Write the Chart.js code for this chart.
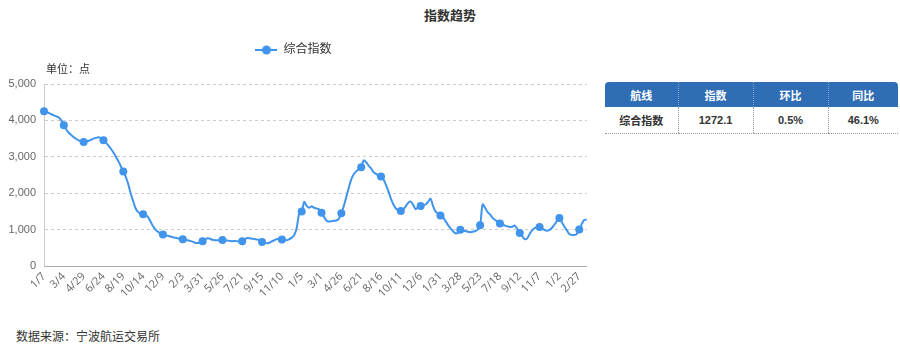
<!DOCTYPE html>
<html>
<head>
<meta charset="utf-8">
<script src="https://cdn.jsdelivr.net/npm/chart.js@4/dist/chart.umd.min.js"></script>
<style>
  body { margin: 0; background: #fff; font-family: 'Liberation Sans', 'Noto Sans CJK SC', sans-serif; color: #333; }
  #wrap { position: relative; width: 900px; height: 354px; overflow: hidden; }
  #title { position: absolute; left: 0; top: 5px; width: 900px; text-align: center; font-size: 13px; font-weight: bold; color: #333; }
  #box { position: absolute; left: 0; top: 0; width: 600px; height: 310px; }
  #tbl { position: absolute; left: 605px; top: 82px; width: 293px; border-collapse: collapse; table-layout: fixed; font-size: 11px; }
  #tbl th { background: #2f6db4; color: #fff; height: 23px; font-weight: bold; border-left: 1px dotted #7f9fcc; }
  #tbl th:first-child { border-left: none; border-top-left-radius: 4px; }
  #tbl th:last-child { border-top-right-radius: 4px; }
  #tbl td { height: 24px; text-align: center; font-weight: bold; border-left: 1px dotted #999; border-bottom: 1px dotted #999; }
  #tbl td:first-child { border-left: none; }
  #src { position: absolute; left: 16px; top: 327px; font-size: 12px; color: #333; }
</style>
</head>
<body>
<div id="wrap">
  <div id="title">指数趋势</div>
  <div id="box"><canvas id="chart"></canvas></div>
  <table id="tbl">
    <colgroup><col style="width:73px"><col style="width:75px"><col style="width:75px"><col style="width:70px"></colgroup>
    <tr><th>航线</th><th>指数</th><th>环比</th><th>同比</th></tr>
    <tr><td>综合指数</td><td>1272.1</td><td>0.5%</td><td>46.1%</td></tr>
  </table>
  <div id="src">数据来源：宁波航运交易所</div>
</div>
<script>
// weekly index, first week 2022-01-07
const startDate = '2022-01-07';
const seriesName = '综合指数';
const indexValues = [
  4250, 4230, 4200, 4170, 4140, 4110, 4080, 4000, 3866,
  3750, 3660, 3600, 3540, 3490, 3450, 3420, 3407,
  3420, 3440, 3470, 3500, 3520, 3540, 3510, 3453,
  3390, 3310, 3220, 3120, 3010, 2880, 2740, 2593,
  2450, 2250, 1990, 1780, 1580, 1480, 1440, 1420,
  1400, 1340, 1220, 1090, 1000, 940, 890, 862,
  845, 830, 810, 790, 775, 760, 745, 733,
  720, 705, 690, 670, 640, 630, 650, 678,
  720, 760, 750, 720, 710, 705, 710, 714,
  710, 700, 690, 680, 690, 680, 670, 678,
  730, 770, 760, 750, 740, 730, 710, 660,
  640, 625, 640, 680, 710, 740, 740, 725,
  700, 710, 740, 780, 850, 1050, 1450, 1494,
  1760, 1650, 1600, 1640, 1600, 1580, 1560, 1460,
  1350, 1250, 1220, 1230, 1240, 1250, 1300, 1450,
  1650, 1900, 2150, 2380, 2520, 2600, 2660, 2712,
  2900, 2850, 2760, 2680, 2580, 2530, 2480, 2456,
  2380, 2230, 2050, 1850, 1690, 1580, 1530, 1511,
  1560, 1640, 1740, 1770, 1680, 1560, 1620, 1648,
  1670, 1690, 1760, 1850, 1650, 1500, 1440, 1385,
  1340, 1240, 1130, 1040, 960, 900, 910, 995,
  980, 960, 940, 930, 940, 960, 1000, 1120,
  1690, 1600, 1480, 1420, 1320, 1270, 1220, 1165,
  1140, 1110, 1090, 1070, 1080, 1110, 1020, 907,
  820, 740, 760, 880, 980, 1040, 1060, 1071,
  1030, 990, 970, 990, 1050, 1140, 1230, 1319,
  1200, 1080, 980, 880, 850, 850, 880, 1000,
  1150, 1265.8, 1272.1
];
const yTicks = [0, 1000, 2000, 3000, 4000, 5000];
const labelStep = 8;

// week labels like 1/7, 3/4 ...
const weekLabels = [];
const d0 = new Date(startDate + 'T00:00:00Z');
for (let i = 0; i < indexValues.length; i++) {
  const d = new Date(d0.getTime() + i * 7 * 86400000);
  weekLabels.push((d.getUTCMonth() + 1) + '/' + d.getUTCDate());
}

const blue = '#4094ec';
const font = "'Liberation Sans', 'Noto Sans CJK SC', sans-serif";
const tickFont = "'Open Sans', 'Liberation Sans', sans-serif";

// legend symbol: short line with a dot
const sym = document.createElement('canvas');
sym.width = 22; sym.height = 10;
const sc = sym.getContext('2d');
sc.strokeStyle = blue; sc.lineWidth = 2;
sc.beginPath(); sc.moveTo(0, 5); sc.lineTo(22, 5); sc.stroke();
sc.fillStyle = blue;
sc.beginPath(); sc.arc(11, 5, 4.5, 0, Math.PI * 2); sc.fill();

const legendHeight = {
  id: 'legendHeight',
  beforeInit(chart) {
    const fit = chart.legend.fit;
    chart.legend.fit = function () {
      fit.bind(chart.legend)();
      this.height = 50;
    };
  }
};

const unitLabel = {
  id: 'unitLabel',
  afterDraw(chart) {
    const c = chart.ctx, a = chart.chartArea;
    c.save();
    c.font = "11px " + font;
    c.fillStyle = '#333';
    c.textBaseline = 'middle';
    c.fillText('单位：点', a.left + 2, a.top - 14);
    c.restore();
  }
};

new Chart(document.getElementById('chart'), {
  type: 'line',
  data: {
    labels: weekLabels,
    datasets: [{
      label: seriesName,
      data: indexValues,
      borderColor: blue,
      backgroundColor: blue,
      borderWidth: 2,
      tension: 0.3,
      pointRadius: ctx => ctx.dataIndex % labelStep === 0 ? 4 : 0,
      pointHoverRadius: 0,
      pointBackgroundColor: blue,
      pointBorderWidth: 0,
      fill: false
    }]
  },
  options: {
    responsive: true,
    maintainAspectRatio: false,
    animation: false,
    layout: { padding: { top: 34, right: 13, left: 0, bottom: 0 } },
    plugins: {
      legend: {
        display: true,
        labels: {
          usePointStyle: true,
          pointStyle: sym,
          pointStyleWidth: 22,
          color: '#333',
          font: { size: 12, family: font },
          padding: 10
        }
      },
      tooltip: { enabled: false }
    },
    scales: {
      x: {
        offset: false,
        afterFit(s) { s.height = 44; },
        grid: { display: false, drawTicks: false },
        border: { display: true, color: '#aaa' },
        ticks: {
          autoSkip: false,
          minRotation: 45,
          maxRotation: 45,
          padding: 4,
          color: '#666',
          font: { size: 11, family: tickFont },
          callback(v, i) { return i % labelStep === 0 ? weekLabels[i] : ''; }
        }
      },
      y: {
        min: 0,
        max: 5000,
        afterFit(s) { s.width = 44; },
        afterBuildTicks(s) { s.ticks = yTicks.map(v => ({ value: v })); },
        grid: { color: '#ccc', drawTicks: false },
        border: { display: true, color: '#ccc', dash: [3, 3] },
        ticks: {
          padding: 8,
          color: '#666',
          font: { size: 11, family: font },
          callback(v) { return v.toLocaleString('en-US'); }
        }
      }
    }
  },
  plugins: [legendHeight, unitLabel]
});
</script>
</body>
</html>
